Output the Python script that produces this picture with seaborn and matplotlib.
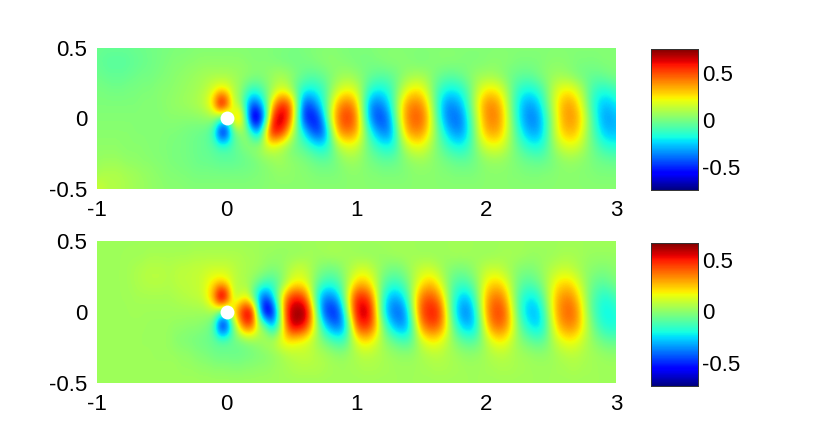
import numpy as np
import pandas as pd
import matplotlib
matplotlib.use("Agg")
import matplotlib.pyplot as plt
import seaborn as sns

# field values, in hundredths
# one list per row, y = 0.5 down to -0.5, x = -1 to 3 in steps of 0.05
top_p50 = [-2,-3,-3,-3,-3,-3,-2,-2,-1,-1,0,0,1,1,1,2,2,2,2,2,
           2,2,2,2,2,2,2,1,1,1,0,0,1,1,2,2,2,2,1,1,
           1,1,1,2,2,2,2,2,2,2,2,2,2,2,2,2,2,2,2,2,
           2,2,2,2,2,2,2,2,2,2,2,2,2,2,2,2,2,2,2,2,2]
top_p40 = [-4,-5,-6,-6,-6,-5,-4,-3,-2,-1,0,1,2,2,3,3,4,4,4,4,
           4,4,4,3,2,2,2,1,0,-1,-1,-1,0,1,2,3,4,3,2,1,
           0,0,0,1,2,3,3,3,2,1,0,1,2,3,3,3,2,1,1,1,
           2,3,3,3,2,1,1,1,1,2,3,3,3,2,1,1,1,1,2,2,2]
top_p30 = [-2,-3,-4,-4,-4,-3,-2,-1,-1,0,1,2,3,4,5,6,7,8,8,8,
           8,7,6,5,4,3,4,6,8,7,4,0,-3,-5,-4,-2,1,4,6,6,
           4,1,-2,-4,-5,-4,-2,2,5,7,7,5,1,-2,-4,-4,-2,1,4,6,
           6,6,4,1,-2,-3,-4,-3,0,3,5,6,5,3,0,-2,-3,-3,-2,0,1]
top_p20 = [0,0,-1,-1,-1,0,0,1,1,2,3,3,4,5,6,7,9,12,18,22,
           20,12,5,-5,-12,-10,-2,6,14,14,5,-8,-16,-18,-16,-10,2,12,18,19,
           14,2,-12,-18,-18,-14,-3,10,20,24,22,12,-2,-13,-18,-19,-16,-8,4,16,
           23,24,20,10,-3,-13,-17,-17,-13,-4,8,18,22,22,16,6,-6,-13,-15,-14,-10]
top_p10 = [1,1,1,1,1,1,1,2,2,2,3,4,5,6,7,9,11,18,35,75,
           60,15,6,-22,-42,-35,-10,25,50,55,40,-5,-42,-42,-30,-12,10,32,42,42,
           30,0,-30,-38,-34,-22,0,24,38,42,38,24,0,-22,-34,-34,-28,-14,6,26,
           38,40,34,18,-3,-20,-30,-31,-25,-10,8,24,34,36,28,13,-7,-20,-26,-26,-20]
top_z00 = [2,2,2,2,2,2,2,2,2,2,2,3,3,3,3,3,4,5,5,-5,
           -10,25,38,-12,-68,-65,-25,50,68,65,40,-10,-50,-55,-50,-25,15,40,52,53,
           40,5,-30,-45,-45,-35,-5,25,42,48,46,32,5,-20,-36,-40,-38,-22,0,22,
           38,42,38,22,0,-20,-33,-37,-33,-18,2,22,35,38,34,20,0,-18,-30,-32,-28]
top_m10 = [3,3,3,3,3,3,2,2,2,2,2,1,1,0,-1,-2,-3,-5,-15,-60,
           -55,-10,3,5,-18,-28,25,60,60,45,18,-5,-22,-40,-48,-40,-5,30,42,42,
           35,12,-12,-28,-36,-36,-15,16,35,40,38,26,8,-10,-24,-33,-34,-24,-4,18,
           32,36,33,20,3,-13,-25,-31,-30,-18,2,20,30,33,29,16,0,-13,-24,-28,-27]
top_m20 = [4,4,4,4,3,3,3,3,2,2,1,1,0,0,-1,-2,-3,-4,-6,-8,
           -9,-6,-2,2,6,8,14,16,12,6,0,-4,-7,-12,-18,-18,-10,6,14,17,
           14,6,-4,-11,-16,-18,-12,2,14,19,19,13,4,-4,-11,-16,-18,-14,-4,8,
           16,19,18,12,3,-5,-12,-16,-17,-11,0,10,16,18,16,9,1,-6,-12,-15,-16]
top_m30 = [5,6,6,6,5,4,4,3,3,2,2,1,0,0,-1,-2,-3,-3,-4,-5,
           -5,-5,-4,-3,-2,1,3,5,7,6,4,3,1,-1,-3,-4,-3,0,4,6,
           6,3,0,-2,-4,-4,-3,0,3,5,6,5,3,1,-1,-3,-4,-4,-2,1,
           4,5,5,4,2,0,-2,-3,-4,-3,-1,2,4,5,4,3,1,-1,-2,-3,-3]
top_m40 = [8,10,10,10,9,8,7,6,5,4,3,2,2,1,1,0,0,0,0,0,
           0,0,0,0,1,1,2,3,4,4,4,3,3,2,1,1,1,1,2,3,
           3,3,2,2,1,1,1,1,2,3,3,3,3,2,2,1,1,1,1,2,
           3,3,3,3,2,2,1,1,1,2,2,3,3,3,3,2,2,1,1,1,1]
top_m50 = [15,13,10,10,9,8,7,6,5,4,4,3,3,3,2,2,2,2,2,2,
           2,2,2,2,2,2,3,3,3,3,3,3,3,3,3,3,3,3,3,3,
           3,3,3,3,3,3,3,3,3,3,3,3,3,3,3,3,3,3,3,3,
           3,3,3,3,3,3,3,3,3,3,3,3,3,3,3,3,3,3,3,3,3]

bot_p50 = [3,3,3,3,3,3,3,3,3,3,3,3,3,3,3,3,3,3,3,3,
           3,3,3,3,3,3,3,3,3,3,3,3,3,3,3,3,3,3,3,3,
           3,3,3,3,3,3,3,3,3,3,3,3,3,3,3,3,3,3,3,3,
           3,3,3,3,3,3,3,3,3,3,3,3,3,3,3,3,3,3,3,3,3]
bot_p40 = [3,3,3,3,3,3,3,3,4,4,4,4,4,4,4,5,5,5,5,5,
           5,5,5,4,4,3,2,2,1,1,1,1,2,3,3,4,5,5,4,3,
           2,1,1,1,2,3,4,4,4,3,2,2,2,2,3,4,4,4,3,2,
           2,2,3,4,4,4,3,2,2,2,2,3,4,4,4,3,2,2,2,2,2]
bot_p30 = [3,3,3,3,3,4,5,6,7,7,7,6,7,8,8,9,9,10,10,10,
           10,8,6,5,4,3,1,-1,0,3,7,10,9,5,0,-3,-4,-3,1,5,
           9,11,9,5,0,-3,-4,-2,2,6,9,10,8,4,0,-2,-3,-2,1,5,
           8,9,8,5,2,-1,-2,-2,0,3,6,8,9,8,5,2,0,-1,-2,-1,0]
bot_p20 = [3,3,3,3,3,4,5,6,7,7,7,6,7,8,8,9,10,15,20,22,
           18,10,6,4,0,-6,-12,-13,-8,2,13,16,14,5,-6,-13,-15,-12,-3,10,
           22,25,20,8,-5,-12,-14,-11,-3,8,18,24,22,12,0,-9,-12,-11,-5,5,
           17,22,22,15,4,-5,-9,-9,-5,2,11,19,22,21,14,5,-3,-7,-8,-6,-3]
bot_p10 = [3,3,3,3,3,3,4,4,4,4,4,4,5,6,7,8,9,18,35,75,
           60,10,8,14,-8,-35,-45,-28,3,32,48,50,42,15,-20,-36,-38,-30,-8,25,
           48,50,42,18,-12,-28,-32,-26,-10,16,36,42,40,28,5,-15,-26,-28,-17,5,
           26,36,37,28,8,-10,-20,-23,-18,-4,14,28,34,34,25,10,-5,-13,-18,-17,-12]
bot_z00 = [3,3,3,3,3,3,3,3,3,3,3,3,3,3,3,3,3,3,5,-5,
           -10,22,45,62,55,-25,-68,-60,-15,40,62,66,64,38,-10,-45,-52,-50,-25,20,
           52,60,55,25,-15,-35,-42,-40,-22,15,42,50,52,42,12,-18,-34,-38,-28,0,
           28,42,45,38,15,-10,-25,-30,-28,-12,12,30,38,40,33,15,-4,-15,-21,-22,-18]
bot_m10 = [3,3,3,3,3,3,3,3,2,2,2,2,1,1,0,0,-1,-3,-12,-60,
           -55,-8,25,45,38,10,-5,-30,-10,30,58,60,52,30,3,-22,-36,-42,-34,0,
           40,50,46,28,0,-20,-32,-36,-28,2,32,42,44,36,16,-8,-24,-30,-28,-8,
           20,36,40,34,18,-3,-16,-24,-26,-16,6,24,33,35,30,16,2,-10,-17,-20,-19]
bot_m20 = [3,3,3,3,3,3,3,2,2,2,2,2,-1,-2,-3,-4,-5,-6,-7,-7,
           -7,-6,-5,-3,0,3,6,8,14,20,20,17,14,9,2,-4,-10,-14,-14,-2,
           13,21,20,13,4,-3,-8,-12,-12,-3,10,17,19,15,8,0,-6,-10,-10,-5,
           6,15,19,17,9,1,-4,-8,-10,-7,2,11,16,18,15,9,3,-2,-6,-8,-8]
bot_m30 = [3,3,3,3,3,3,3,3,3,2,2,2,2,1,1,-1,-2,-3,-5,-6,
           -6,-6,-6,-5,-4,-3,-2,0,2,5,7,8,9,8,6,5,3,1,1,3,
           5,7,7,6,5,3,2,1,1,2,4,6,7,7,5,4,2,1,1,2,
           4,6,7,7,5,4,3,2,1,1,2,4,6,7,7,5,4,3,2,1,1]
bot_m40 = [3,3,3,3,3,3,3,3,3,3,3,3,3,2,2,2,1,1,0,0,
           0,-1,-1,0,0,1,1,2,3,4,5,6,6,6,6,5,4,4,3,4,
           4,5,5,5,4,4,3,3,3,3,4,4,5,5,5,4,4,3,3,3,
           4,4,5,5,5,4,4,3,3,3,3,4,4,5,5,4,4,3,3,3,3]
bot_m50 = [3,3,3,3,3,3,3,3,3,3,3,3,3,3,3,3,3,3,3,3,
           3,3,3,3,3,3,3,3,3,3,3,3,3,3,3,3,3,3,3,3,
           3,3,3,3,3,3,3,3,3,3,3,3,3,3,3,3,3,3,3,3,
           3,3,3,3,3,3,3,3,3,3,3,3,3,3,3,3,3,3,3,3,3]

top_rows = [top_p50, top_p40, top_p30, top_p20, top_p10, top_z00,
            top_m10, top_m20, top_m30, top_m40, top_m50]
bot_rows = [bot_p50, bot_p40, bot_p30, bot_p20, bot_p10, bot_z00,
            bot_m10, bot_m20, bot_m30, bot_m40, bot_m50]

x_labels = ["-1", "0", "1", "2", "3"]
y_labels = ["0.5", "0", "-0.5"]
cbar_labels = ["-0.5", "0", "0.5"]
cbar_values = [-0.5, 0, 0.5]
top_range = (-0.74, 0.75)
bot_range = (-0.73, 0.67)

sns.set_theme(style="white")
plt.rcParams["font.family"] = ["Liberation Sans", "DejaVu Sans"]

W, H = 824, 436
fig = plt.figure(figsize=(W / 100, H / 100), dpi=100)


def px_axes(left, top, right, bottom):
    return fig.add_axes([left / W, 1 - bottom / H, (right - left) / W, (bottom - top) / H])


def draw_panel(rows, limits, box, cbar_box):
    ax = px_axes(*box)
    cax = px_axes(*cbar_box)
    field = pd.DataFrame(np.array(rows) / 100)
    sns.heatmap(field, ax=ax, cbar_ax=cax, cmap="jet", vmin=limits[0], vmax=limits[1],
                xticklabels=False, yticklabels=False,
                cbar_kws={"ticks": cbar_values})
    # smooth shading of the same grid on top of the heatmap cells
    ax.imshow(field.values, cmap="jet", vmin=limits[0], vmax=limits[1],
              interpolation="bicubic", aspect="auto", zorder=2)
    n_rows, n_cols = field.shape
    ax.set_xlim(0, n_cols - 1)
    ax.set_ylim(n_rows - 1, 0)
    ax.set_xticks(np.linspace(0, n_cols - 1, len(x_labels)))
    ax.set_xticklabels(x_labels, fontsize=16, color="black")
    ax.set_yticks(np.linspace(0, n_rows - 1, len(y_labels)))
    ax.set_yticklabels(y_labels, fontsize=16, color="black", rotation=0)
    ax.tick_params(axis="x", length=0, pad=8)
    ax.tick_params(axis="y", length=0, pad=7)
    for s in ax.spines.values():
        s.set_visible(False)

    # cylinder at the origin
    ax.scatter([(n_cols - 1) / 4], [(n_rows - 1) / 2], s=100, c="white", linewidths=0, zorder=5)

    cax.set_yticklabels(cbar_labels, fontsize=16, color="black")
    cax.tick_params(axis="y", direction="in", length=2, width=0.6, pad=3, color="#333333", right=True)
    for s in cax.spines.values():
        s.set_visible(True)
        s.set_linewidth(0.6)
        s.set_color("#333333")


draw_panel(top_rows, top_range, (97, 48, 616, 189), (651, 49, 698, 190))
draw_panel(bot_rows, bot_range, (97, 241, 616, 383), (651, 243, 698, 386))

fig.savefig("out.png", dpi=100)
